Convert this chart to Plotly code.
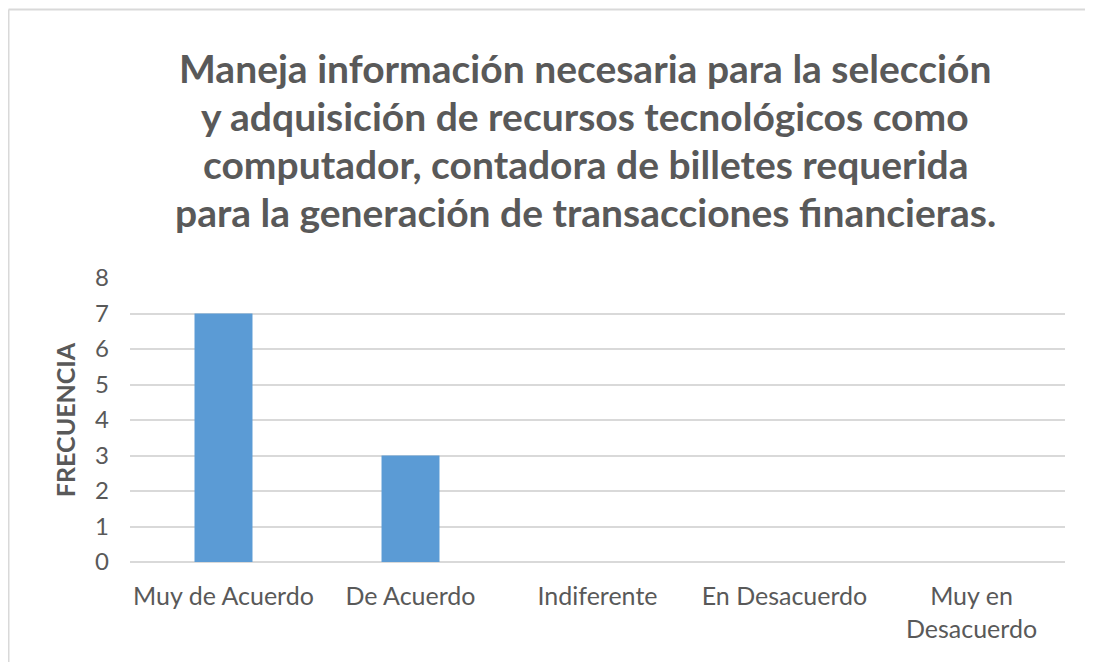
import plotly.graph_objects as go

categories = ["Muy de Acuerdo", "De Acuerdo", "Indiferente", "En Desacuerdo", "Muy en<br>Desacuerdo"]
frecuencia = [7, 3, 0, 0, 0]
title_lines = [
    "Maneja información necesaria para la selección",
    "y adquisición de recursos tecnológicos como",
    "computador, contadora de billetes requerida",
    "para la generación de transacciones financieras.",
]
y_ticks = [0, 1, 2, 3, 4, 5, 6, 7, 8]

# page body has an 8px margin; work in screenshot coords and shift
OFF = 8
W, H = 1093 - OFF, 662 - OFF
L, R, T, B = 130 - OFF, 1093 - 1065, 278 - OFF, 662 - 562
pw, ph = W - L - R, H - T - B

def px_x(x):
    return (x - OFF - L) / pw

def px_y(y):
    return (H - B - (y - OFF)) / ph

grey = "#595959"

fig = go.Figure()
fig.add_trace(go.Bar(
    x=categories, y=frecuencia,
    marker=dict(color="#5b9bd5", line=dict(width=0)),
))

annotations = []
line_centers = [68, 116, 164, 212]
for txt, yc in zip(title_lines, line_centers):
    annotations.append(dict(
        text=txt, xref="paper", yref="paper", x=px_x(585), y=px_y(yc),
        xanchor="center", yanchor="middle", showarrow=False,
        font=dict(family="Lato", size=39, color=grey, weight="bold"),
    ))

shapes = [
    dict(type="line", xref="paper", yref="paper",
         x0=px_x(8.5), x1=px_x(8.5), y0=px_y(9.5), y1=px_y(700),
         line=dict(color="#d9d9d9", width=2)),
    dict(type="line", xref="paper", yref="paper",
         x0=px_x(8.5), x1=px_x(1200), y0=px_y(9.5), y1=px_y(9.5),
         line=dict(color="#d9d9d9", width=2)),
]

fig.update_layout(
    width=W, height=H,
    margin=dict(l=L, r=R, t=T, b=B, autoexpand=False),
    paper_bgcolor="white", plot_bgcolor="white",
    bargap=0.69,
    showlegend=False,
    annotations=annotations,
    shapes=shapes,
    font=dict(family="Lato", color=grey),
)
fig.update_xaxes(
    showgrid=False, showline=False, zeroline=False,
    tickfont=dict(family="Lato", size=25, color=grey),
    ticklabelstandoff=17,
)
fig.update_yaxes(
    range=[0, 8], tickvals=y_ticks,
    showgrid=True, gridcolor="#d9d9d9", gridwidth=1.5,
    zeroline=True, zerolinecolor="#d9d9d9", zerolinewidth=1.5,
    showline=False,
    tickfont=dict(family="Lato", size=24, color=grey),
    ticklabelstandoff=20,
    title=dict(text="FRECUENCIA", standoff=12,
               font=dict(family="Lato", size=25, color=grey, weight="bold")),
)

fig.write_html("out.html")
